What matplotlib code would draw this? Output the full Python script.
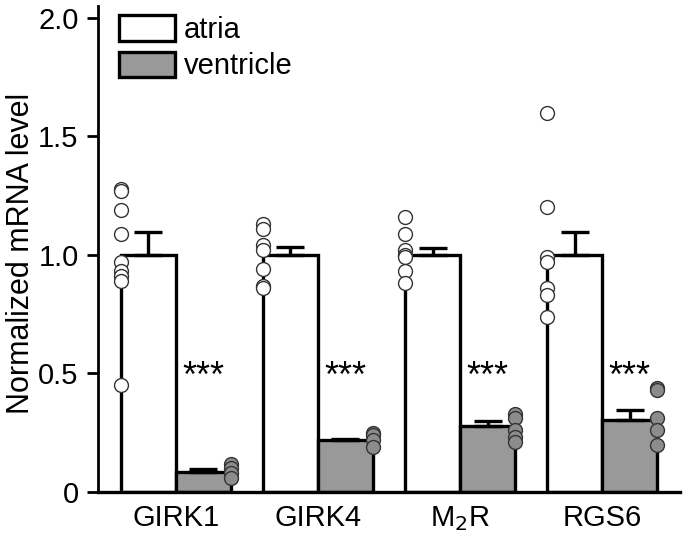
import matplotlib
matplotlib.use("Agg")
import matplotlib.pyplot as plt
import numpy as np
from matplotlib.patches import Patch

plt.rcParams['font.family'] = ['Liberation Sans', 'DejaVu Sans']

categories = ["GIRK1", "GIRK4", "M$_2$R", "RGS6"]
atria_mean = [1.0, 1.0, 1.0, 1.0]
atria_err = [0.095, 0.035, 0.03, 0.095]
vent_mean = [0.085, 0.22, 0.28, 0.305]
vent_err = [0.01, 0.005, 0.02, 0.04]
atria_pts = [
    [1.28, 1.27, 1.19, 1.09, 0.97, 0.93, 0.91, 0.89, 0.45],
    [1.13, 1.11, 1.04, 1.02, 0.94, 0.87, 0.86],
    [1.16, 1.09, 1.02, 1.00, 0.99, 0.93, 0.88],
    [1.60, 1.20, 0.99, 0.97, 0.86, 0.83, 0.74],
]
vent_pts = [
    [0.12, 0.10, 0.08, 0.06],
    [0.25, 0.24, 0.22, 0.19],
    [0.33, 0.31, 0.26, 0.23, 0.21],
    [0.44, 0.43, 0.31, 0.26, 0.20],
]
sig_labels = ["***", "***", "***", "***"]

fig = plt.figure(figsize=(6.85, 5.43), dpi=100)
ax = fig.add_axes([0.143, 0.094, 0.85, 0.895])

x = np.arange(len(categories))
w = 0.387
lw = 2.4

ax.bar(x - w / 2, atria_mean, w, color="white", edgecolor="black", linewidth=lw, zorder=2)
ax.bar(x + w / 2, vent_mean, w, color="#999999", edgecolor="black", linewidth=lw, zorder=2)
ax.errorbar(x - w / 2, atria_mean, yerr=[np.zeros(4), atria_err], fmt="none",
            ecolor="black", elinewidth=2.4, capsize=10, capthick=2.4, zorder=3)
ax.errorbar(x + w / 2, vent_mean, yerr=[np.zeros(4), vent_err], fmt="none",
            ecolor="black", elinewidth=2.4, capsize=10, capthick=2.4, zorder=3)

for i in range(len(categories)):
    ax.plot([x[i] - w] * len(atria_pts[i]), atria_pts[i], "o", ms=10,
            mfc="white", mec="#333333", mew=1.0, zorder=4, clip_on=False)
    ax.plot([x[i] + w] * len(vent_pts[i]), vent_pts[i], "o", ms=10,
            mfc="#8c8c8c", mec="#333333", mew=1.0, zorder=4, clip_on=False)
    ax.text(x[i] + w / 2, 0.485, sig_labels[i], ha="center", va="center", fontsize=26)

ax.set_xlim(-0.549, 3.55)
ax.set_ylim(0, 2.05)
ax.set_yticks([0, 0.5, 1.0, 1.5, 2.0])
ax.set_yticklabels(["0", "0.5", "1.0", "1.5", "2.0"], fontsize=21)
ax.set_xticks(x)
ax.set_xticklabels(categories, fontsize=21)
ax.tick_params(axis="x", length=0, pad=9)
ax.tick_params(axis="y", length=8, width=2, direction="out", pad=6)
ax.set_ylabel("Normalized mRNA level", fontsize=22)
ax.yaxis.set_label_coords(-0.106, 0.49)
for s in ["top", "right"]:
    ax.spines[s].set_visible(False)
ax.spines["left"].set_linewidth(2)
ax.spines["bottom"].set_linewidth(2.4)

handles = [Patch(facecolor="white", edgecolor="black", linewidth=2.4, label="atria"),
           Patch(facecolor="#999999", edgecolor="black", linewidth=2.4, label="ventricle")]
ax.legend(handles=handles, loc="upper left", bbox_to_anchor=(0.036, 0.981), frameon=False,
          fontsize=21, handlelength=1.92, handleheight=0.96, handletextpad=0.3,
          labelspacing=0.27, borderpad=0, borderaxespad=0)

fig.savefig("out.png", dpi=100)
